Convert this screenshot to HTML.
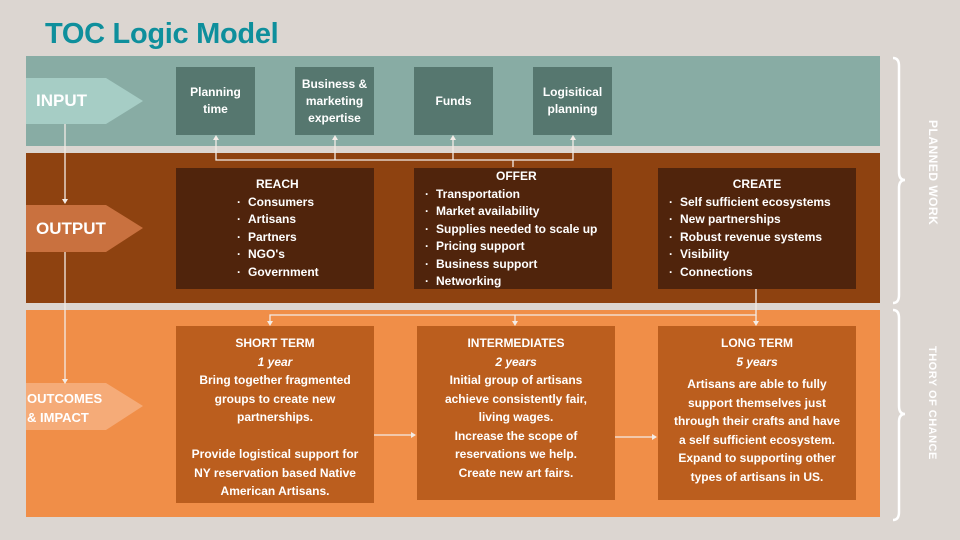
<!DOCTYPE html>
<html><head><meta charset="utf-8"><style>
body{margin:0;width:960px;height:540px;background:#dcd6d1;position:relative;overflow:hidden;font-family:"Liberation Sans",sans-serif;font-weight:bold;color:#fff}
div{position:absolute;box-sizing:border-box}
.t{text-align:center}
.ib{background:#56776f;top:67px;width:79px;height:68px;display:flex;align-items:center;justify-content:center;text-align:center;font-size:12px;line-height:17px}
.ob{background:#50240c;top:168px;width:198px;height:121px;font-size:12px;line-height:17.5px}
.ob ul{margin:0;padding:0;list-style:none}
.ob li:before{content:"·";display:inline-block;width:18px;text-align:center}
.cb{background:#bb5e1e;top:326px;width:198px;height:177px;text-align:center;font-size:12px;line-height:18.5px;padding-top:8px}
.lab{font-size:17px;left:36px}
</style></head><body>
<div style="left:45px;top:18px;font-size:29px;color:#0e8f9c;letter-spacing:-0.3px">TOC Logic Model</div>
<div style="left:26px;top:56px;width:854px;height:90px;background:#88aca4"></div>
<div style="left:26px;top:153px;width:854px;height:150px;background:#8e4210"></div>
<div style="left:26px;top:310px;width:854px;height:207px;background:#f08e48"></div>
<svg style="position:absolute;left:0;top:0" width="960" height="540">
<polygon points="26,78 106,78 143,101 106,124 26,124" fill="#a6cdc5"/>
<polygon points="26,205 106,205 143,228 106,252 26,252" fill="#c9713f"/>
<polygon points="26,383 106,383 143,406 106,430 26,430" fill="#f5ab78"/>
<g stroke="#f3ece6" stroke-width="1.3" fill="none">
<line x1="65" y1="124" x2="65" y2="200"/><line x1="65" y1="252" x2="65" y2="380"/>
<polyline points="216,139 216,160 573,160 573,139"/><line x1="335" y1="139" x2="335" y2="160"/><line x1="453" y1="139" x2="453" y2="160"/><line x1="513" y1="160" x2="513" y2="167"/>
<polyline points="756,289 756,315 270,315 270,322"/><line x1="515" y1="315" x2="515" y2="322"/><line x1="756" y1="315" x2="756" y2="322"/>
<line x1="374" y1="435" x2="412" y2="435"/><line x1="614" y1="437" x2="653" y2="437"/>
</g>
<g fill="#f3ece6">
<polygon points="62,199 68,199 65,204"/><polygon points="62,379 68,379 65,384"/>
<polygon points="213,140 219,140 216,135"/><polygon points="332,140 338,140 335,135"/><polygon points="450,140 456,140 453,135"/><polygon points="570,140 576,140 573,135"/>
<polygon points="267,321 273,321 270,326"/><polygon points="512,321 518,321 515,326"/><polygon points="753,321 759,321 756,326"/>
<polygon points="411,432 411,438 416,435"/><polygon points="652,434 652,440 657,437"/>
</g>
<g stroke="#fff" stroke-width="2.5" fill="none">
<path d="M893,58 Q899,58 899,66 L899,172 Q899,180 905,180 Q899,180 899,188 L899,295 Q899,303 893,303"/>
<path d="M893,310 Q899,310 899,318 L899,406 Q899,414 905,414 Q899,414 899,422 L899,512 Q899,520 893,520"/>
</g>
<text transform="translate(929,120) rotate(90)" fill="#fff" font-size="12" font-weight="bold" font-family="Liberation Sans" letter-spacing="0.5">PLANNED WORK</text>
<text transform="translate(929,346) rotate(90)" fill="#fff" font-size="11" font-weight="bold" font-family="Liberation Sans" letter-spacing="0.5">THORY OF CHANCE</text>
</svg>
<div class="lab" style="top:91px">INPUT</div>
<div class="lab" style="top:219px">OUTPUT</div>
<div style="left:27px;top:389px;font-size:13px;line-height:19px">OUTCOMES<br>&amp; IMPACT</div>
<div class="ib" style="left:176px">Planning<br>time</div>
<div class="ib" style="left:295px">Business &amp;<br>marketing<br>expertise</div>
<div class="ib" style="left:414px">Funds</div>
<div class="ib" style="left:533px">Logisitical<br>planning</div>
<div class="ob" style="left:176px;padding:8px 0 0 54px"><div style="position:static;padding-left:26px">REACH</div><ul><li>Consumers</li><li>Artisans</li><li>Partners</li><li>NGO's</li><li>Government</li></ul></div>
<div class="ob" style="left:414px;padding:0 0 0 4px"><div style="position:static;padding-left:78px">OFFER</div><ul><li>Transportation</li><li>Market availability</li><li>Supplies needed to scale up</li><li>Pricing support</li><li>Business support</li><li>Networking</li></ul></div>
<div class="ob" style="left:658px;padding:8px 0 0 4px"><div style="position:static;text-align:center;padding-right:4px">CREATE</div><ul><li>Self sufficient ecosystems</li><li>New partnerships</li><li>Robust revenue systems</li><li>Visibility</li><li>Connections</li></ul></div>
<div class="cb" style="left:176px">SHORT TERM<br><i>1 year</i><br>Bring together fragmented<br>groups to create new<br>partnerships.<br><br>Provide logistical support for<br>NY reservation based Native<br>American Artisans.</div>
<div class="cb" style="left:417px;height:174px">INTERMEDIATES<br><i>2 years</i><br>Initial group of artisans<br>achieve consistently fair,<br>living wages.<br>Increase the scope of<br>reservations we help.<br>Create new art fairs.</div>
<div class="cb" style="left:658px;height:174px">LONG TERM<br><i>5 years</i><br><span style="display:block;height:4px"></span>Artisans are able to fully<br>support themselves just<br>through their crafts and have<br>a self sufficient ecosystem.<br>Expand to supporting other<br>types of artisans in US.</div>
</body></html>
